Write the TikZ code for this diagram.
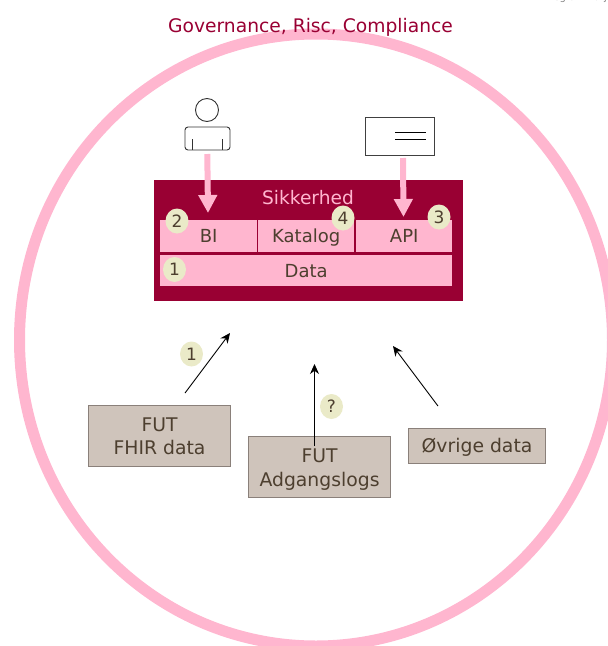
\documentclass[tikz,border=0pt]{standalone}
\usepackage{fontspec}
\setmainfont{DejaVu Sans}
\usetikzlibrary{arrows.meta,shapes.geometric}
\definecolor{crim}{HTML}{990033}
\definecolor{pinkb}{HTML}{FFB6CF}
\definecolor{taupe}{HTML}{CFC4BB}
\definecolor{taupeb}{HTML}{8A807A}
\definecolor{badgec}{HTML}{EAEAC8}
\definecolor{txt}{HTML}{4D3F2F}
\tikzset{
  x=1pt,y=-1pt,
  cellbox/.style={fill=pinkb,draw=none,text=txt,font=\fontsize{18}{20}\selectfont,inner sep=0pt,anchor=north west,text height=16pt,text depth=3pt},
  srcbox/.style={fill=taupe,draw=taupeb,line width=1.1pt,text=txt,font=\fontsize{18.8}{23.5}\selectfont,align=center,inner sep=0pt,anchor=north west},
  badge/.style={ellipse,fill=badgec,text=txt,font=\fontsize{17}{18}\selectfont,inner sep=0pt,minimum width=23pt,minimum height=25pt},
  thickarrow/.style={draw=pinkb,line width=6pt,-{Triangle[length=18pt,width=18pt]}},
  thinarrow/.style={draw=black,line width=0.9pt,-{Stealth[length=10pt,width=9pt]}},
  icon/.style={draw=black!80,line width=0.9pt,fill=white},
}
\begin{document}
\begin{tikzpicture}
\useasboundingbox (0,0) rectangle (608,646);
\begin{scope}
\clip (0,0) rectangle (608,646);
\draw[draw=pinkb,line width=11pt] (316,340) ellipse [x radius=296.5, y radius=306];
\node[text=gray,font=\fontsize{10}{11}\selectfont,anchor=north east,inner sep=0pt] (logo) at (607,-7) {regionmidtj};
\end{scope}
\node[text=crim,font=\fontsize{18.7}{20}\selectfont,inner sep=0pt,anchor=base] (title) at (310.5,32) {Governance, Risc, Compliance};

% security block
\node[fill=crim,minimum width=309pt,minimum height=121pt,inner sep=0pt,anchor=north west] (sec) at (154,180) {};
\node[text=pinkb,font=\fontsize{18.6}{20}\selectfont,inner sep=0pt] (sectitle) at (308,198) {Sikkerhed};
\node[cellbox,minimum width=97pt,minimum height=32pt] (bi) at (160,220) {BI};
\node[cellbox,minimum width=96pt,minimum height=32pt] (kat) at (258,220) {Katalog};
\node[cellbox,minimum width=96pt,minimum height=32pt] (api) at (356,220) {API};
\node[cellbox,minimum width=292pt,minimum height=31pt] (data) at (160,255) {Data};

% person icon
\node[circle,icon,minimum size=23pt,inner sep=0pt] (head) at (207,110) {};
\draw[icon,rounded corners=3pt] (185,150) -- (185,127) -- (230,127) -- (230,150) -- cycle;
\draw[icon] (192,139) -- (192,150) (222,139) -- (222,150);
\coordinate (personout) at (207.3,154);
\coordinate (biin) at (208,213);

% document icon
\node[icon,draw=black!75,minimum width=69pt,minimum height=38pt,inner sep=0pt,anchor=north west] (doc) at (365,117) {};
\draw[draw=black,line width=0.9pt] (395,132) -- (426,132) (395,139.5) -- (426,139.5);
\coordinate (docout) at (403,158);
\coordinate (apiin) at (403.5,217);

\draw[thickarrow] (personout) -- (biin);
\draw[thickarrow] (docout) -- (apiin);

% sources
\node[srcbox,minimum width=142pt,minimum height=61pt] (fhir) at (88,405) {FUT\\FHIR data};
\node[srcbox,minimum width=142pt,minimum height=61pt] (logs) at (248,435.5) {\rule{0pt}{20pt}FUT\\Adgangslogs};
\node[srcbox,minimum width=137pt,minimum height=35pt,text height=17pt,text depth=3pt] (ovr) at (408,427.5) {Øvrige data};

\coordinate (a1s) at (185,393);
\coordinate (a1e) at (230,333);
\coordinate (a2s) at (314.5,446);
\coordinate (a2e) at (314.5,364);
\coordinate (a3s) at (438,406);
\coordinate (a3e) at (393,346);
\draw[thinarrow] (a1s) -- (a1e);
\draw[thinarrow] (a2s) -- (a2e);
\draw[thinarrow] (a3s) -- (a3e);

% badges
\node[badge] (b2) at (177,221) {2};
\node[badge] (b4) at (343,218) {4};
\node[badge] (b3) at (439,217) {3};
\node[badge] (b1) at (174.5,269.5) {1};
\node[badge] (b1b) at (191.5,354) {1};
\node[badge] (bq) at (331.5,406.5) {?};
\end{tikzpicture}
\end{document}
